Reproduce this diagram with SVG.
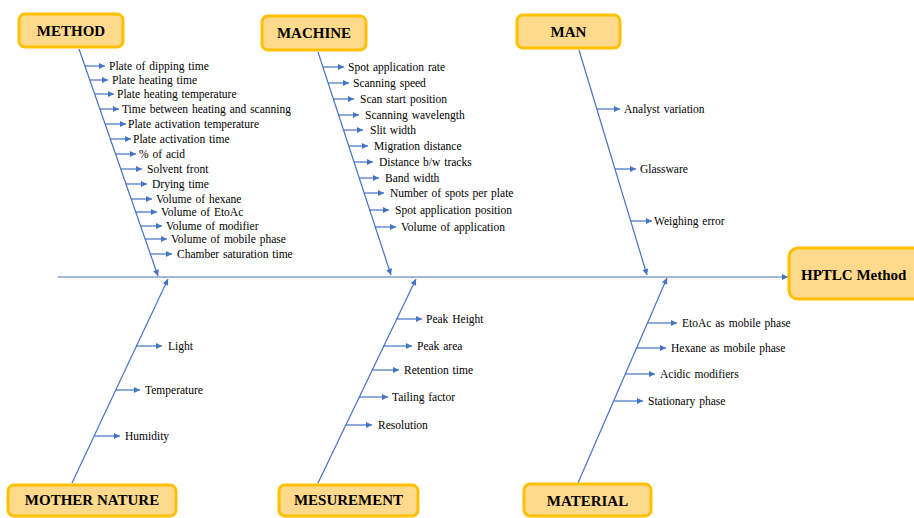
<svg xmlns="http://www.w3.org/2000/svg" width="914" height="518" viewBox="0 0 914 518">
<style>
.box{fill:#FFD98C;stroke:#FFC000;stroke-width:3}
.bt{font-family:"Liberation Serif",serif;font-weight:bold;font-size:15px;fill:#000;text-anchor:middle}
.ln{stroke:#4472C4;stroke-width:1.2;fill:none}
.ar{stroke:#4472C4;stroke-width:1.2;fill:none;marker-end:url(#ah)}
.t{font-family:"Liberation Serif",serif;font-size:11.5px;fill:#000;word-spacing:1px}
</style>
<defs>
<marker id="ah" viewBox="0 0 10 10" refX="10" refY="5" markerWidth="7" markerHeight="6" markerUnits="userSpaceOnUse" orient="auto"><path d="M0,0 L10,5 L0,10 z" fill="#4472C4"/></marker>
</defs>
<rect width="914" height="518" fill="#fff"/>
<g id="connectors">
<line class="ar" x1="58" y1="277" x2="788" y2="277"/>
<line class="ar" x1="79" y1="49" x2="158" y2="276"/>
<line class="ar" x1="318" y1="52" x2="391" y2="275"/>
<line class="ar" x1="579" y1="50" x2="647" y2="275"/>
<line class="ar" x1="72" y1="483" x2="168" y2="279"/>
<line class="ar" x1="318" y1="483" x2="416" y2="279"/>
<line class="ar" x1="578" y1="483" x2="667" y2="278"/>
<line class="ar" x1="85" y1="66" x2="105" y2="66"/>
<line class="ar" x1="90" y1="80" x2="108" y2="80"/>
<line class="ar" x1="95" y1="94" x2="114" y2="94"/>
<line class="ar" x1="100" y1="109" x2="119" y2="109"/>
<line class="ar" x1="105" y1="124" x2="126" y2="124"/>
<line class="ar" x1="110" y1="139" x2="131" y2="139"/>
<line class="ar" x1="115" y1="154" x2="136" y2="154"/>
<line class="ar" x1="121" y1="169" x2="142" y2="169"/>
<line class="ar" x1="126" y1="184" x2="147" y2="184"/>
<line class="ar" x1="131" y1="199" x2="152" y2="199"/>
<line class="ar" x1="136" y1="212" x2="157" y2="212"/>
<line class="ar" x1="141" y1="226" x2="162" y2="226"/>
<line class="ar" x1="145" y1="239" x2="167" y2="239"/>
<line class="ar" x1="150" y1="254" x2="172" y2="254"/>
<line class="ar" x1="323" y1="67" x2="344" y2="67"/>
<line class="ar" x1="328" y1="83" x2="349" y2="83"/>
<line class="ar" x1="333" y1="99" x2="354" y2="99"/>
<line class="ar" x1="338" y1="115" x2="359" y2="115"/>
<line class="ar" x1="343" y1="130" x2="363" y2="130"/>
<line class="ar" x1="349" y1="146" x2="368" y2="146"/>
<line class="ar" x1="354" y1="162" x2="373" y2="162"/>
<line class="ar" x1="359" y1="178" x2="379" y2="178"/>
<line class="ar" x1="364" y1="193" x2="384" y2="193"/>
<line class="ar" x1="369" y1="210" x2="389" y2="210"/>
<line class="ar" x1="375" y1="227" x2="396" y2="227"/>
<line class="ar" x1="597" y1="109" x2="620" y2="109"/>
<line class="ar" x1="615" y1="169" x2="636" y2="169"/>
<line class="ar" x1="631" y1="221" x2="652" y2="221"/>
<line class="ar" x1="136" y1="346" x2="162" y2="346"/>
<line class="ar" x1="116" y1="390" x2="140" y2="390"/>
<line class="ar" x1="95" y1="436" x2="120" y2="436"/>
<line class="ar" x1="396" y1="319" x2="422" y2="319"/>
<line class="ar" x1="383" y1="346" x2="412" y2="346"/>
<line class="ar" x1="372" y1="370" x2="399" y2="370"/>
<line class="ar" x1="359" y1="397" x2="388" y2="397"/>
<line class="ar" x1="346" y1="425" x2="372" y2="425"/>
<line class="ar" x1="647" y1="323" x2="677" y2="323"/>
<line class="ar" x1="636" y1="348" x2="666" y2="348"/>
<line class="ar" x1="625" y1="374" x2="655" y2="374"/>
<line class="ar" x1="613" y1="401" x2="643" y2="401"/>
</g>
<g id="method">
<rect class="box" x="19" y="14" width="104" height="33" rx="6"/>
<text class="bt" x="71" y="36">METHOD</text>
<g class="t">
<text x="109" y="70">Plate of dipping time</text>
<text x="112" y="84">Plate heating time</text>
<text x="117" y="98">Plate heating temperature</text>
<text x="122" y="113">Time between heating and scanning</text>
<text x="128" y="128">Plate activation temperature</text>
<text x="133" y="143">Plate activation time</text>
<text x="139" y="158">% of acid</text>
<text x="147" y="173">Solvent front</text>
<text x="152" y="188">Drying time</text>
<text x="156" y="203">Volume of hexane</text>
<text x="161" y="216">Volume of EtoAc</text>
<text x="166" y="230">Volume of modifier</text>
<text x="171" y="243">Volume of mobile phase</text>
<text x="177" y="258">Chamber saturation time</text>
</g>
</g>
<g id="machine">
<rect class="box" x="262" y="16" width="104" height="34" rx="6"/>
<text class="bt" x="314" y="38">MACHINE</text>
<g class="t">
<text x="348" y="71">Spot application rate</text>
<text x="353" y="87">Scanning speed</text>
<text x="360" y="103">Scan start position</text>
<text x="365" y="119">Scanning wavelength</text>
<text x="370" y="134">Slit width</text>
<text x="374" y="150">Migration distance</text>
<text x="379" y="166">Distance b/w tracks</text>
<text x="385" y="182">Band width</text>
<text x="390" y="197">Number of spots per plate</text>
<text x="395" y="214">Spot application position</text>
<text x="401" y="231">Volume of application</text>
</g>
</g>
<g id="man">
<rect class="box" x="517" y="15" width="103" height="33" rx="6"/>
<text class="bt" x="568.5" y="37">MAN</text>
<g class="t">
<text x="624" y="113">Analyst variation</text>
<text x="640" y="173">Glassware</text>
<text x="654" y="225">Weighing error</text>
</g>
</g>
<g id="hptlc">
<rect class="box" x="789" y="248" width="135" height="51" rx="9"/>
<text class="bt" x="801" y="280" style="text-anchor:start">HPTLC Method</text>
</g>
<g id="mother-nature">
<rect class="box" x="8" y="485" width="168" height="31" rx="6"/>
<text class="bt" x="92" y="505">MOTHER NATURE</text>
<g class="t">
<text x="168" y="350">Light</text>
<text x="145" y="394">Temperature</text>
<text x="125" y="440">Humidity</text>
</g>
</g>
<g id="mesurement">
<rect class="box" x="279" y="485" width="139" height="31" rx="6"/>
<text class="bt" x="348.5" y="505">MESUREMENT</text>
<g class="t">
<text x="426" y="323">Peak Height</text>
<text x="417" y="350">Peak area</text>
<text x="404" y="374">Retention time</text>
<text x="392" y="401">Tailing factor</text>
<text x="378" y="429">Resolution</text>
</g>
</g>
<g id="material">
<rect class="box" x="524" y="484" width="127" height="32" rx="6"/>
<text class="bt" x="587.5" y="506">MATERIAL</text>
<g class="t">
<text x="682" y="327">EtoAc as mobile phase</text>
<text x="671" y="352">Hexane as mobile phase</text>
<text x="660" y="378">Acidic modifiers</text>
<text x="648" y="405">Stationary phase</text>
</g>
</g>
</svg>
